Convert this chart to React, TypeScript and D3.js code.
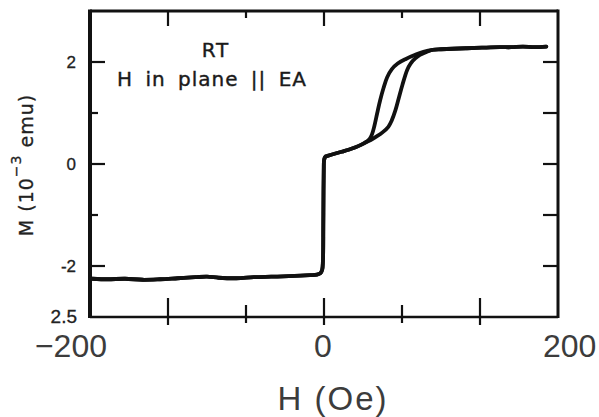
import React, { useEffect, useRef } from "react";
import * as d3 from "d3";

// low-field part shared by both sweeps (H in Oe, M in 10^-3 emu)
const negH = [-198, -185, -170, -155, -140, -125, -110, -100, -90, -75, -60, -45, -30, -20, -12, -6, -3, -1.6, -0.9, -0.6, -0.4, -0.2, 0, 0.6, 1.5];
const negM = [-2.25, -2.26, -2.25, -2.27, -2.26, -2.24, -2.22, -2.21, -2.23, -2.24, -2.22, -2.21, -2.2, -2.19, -2.18, -2.17, -2.14, -2.08, -1.9, -1.2, -0.5, -0.1, 0.06, 0.12, 0.15];
const lowH = [3, 9, 15, 21, 27, 32, 36];
const lowM = [0.16, 0.2, 0.24, 0.28, 0.33, 0.38, 0.43];
// the two branches of the loop
const upH = [40, 45, 50, 55, 58, 61, 64, 67, 71, 74, 78, 82, 88];
const upM = [0.47, 0.54, 0.62, 0.73, 0.86, 1.05, 1.3, 1.55, 1.84, 1.97, 2.07, 2.14, 2.2];
const downH = [39, 41, 43, 45.5, 48, 51, 54, 58, 63, 70, 78, 85];
const downM = [0.49, 0.58, 0.74, 1.0, 1.25, 1.5, 1.7, 1.86, 1.97, 2.06, 2.14, 2.2];
// saturation
const satH = [93, 100, 110, 122, 135, 150, 160, 170, 180, 190];
const satM = [2.24, 2.25, 2.26, 2.27, 2.28, 2.29, 2.29, 2.3, 2.29, 2.3];

const yMajor = [2, 0, -2];
const yMinor = [1, -1];
const yLabels = ["2", "0", "-2"];
const yBottomLabel = "2.5";
const xLabels = [-200, 0, 200];

const width = 599;
const height = 417;
const frame = { left: 90, right: 558, top: 11, bottom: 317 };

function App() {
  const ref = useRef<SVGSVGElement>(null);

  useEffect(() => {
    const svg = d3.select(ref.current);
    svg.selectAll("*").remove();

    const x = d3.scaleLinear().domain([-200, 200]).range([frame.left, frame.right]);
    const y = d3.scaleLinear().domain([-3, 3]).range([frame.bottom, frame.top]);

    const zip = (h: number[], m: number[]) => h.map((v, i) => [v, m[i]] as [number, number]);
    const up = [...zip(negH, negM), ...zip(lowH, lowM), ...zip(upH, upM), ...zip(satH, satM)];
    const down = [...zip(negH, negM), ...zip(lowH, lowM), ...zip(downH, downM), ...zip(satH, satM)];

    const line = d3.line<[number, number]>()
      .x(d => x(d[0]))
      .y(d => y(d[1]))
      .curve(d3.curveCatmullRom.alpha(0.5));

    svg.selectAll("path.loop")
      .data([up, down])
      .enter()
      .append("path")
      .attr("class", "loop")
      .attr("d", d => line(d))
      .attr("fill", "none")
      .attr("stroke", "#111")
      .attr("stroke-width", 3.8)
      .attr("stroke-linejoin", "round")
      .attr("stroke-linecap", "round");

    // frame
    const g = svg.append("g").attr("stroke", "#111").attr("fill", "none");
    g.append("line").attr("x1", frame.left).attr("x2", frame.right).attr("y1", frame.top).attr("y2", frame.top).attr("stroke-width", 3);
    g.append("line").attr("x1", frame.left).attr("x2", frame.right).attr("y1", frame.bottom).attr("y2", frame.bottom).attr("stroke-width", 2.5);
    g.append("line").attr("x1", frame.left).attr("x2", frame.left).attr("y1", frame.top - 1.5).attr("y2", frame.bottom + 1).attr("stroke-width", 4);
    g.append("line").attr("x1", frame.right).attr("x2", frame.right).attr("y1", frame.top - 1.5).attr("y2", frame.bottom + 1).attr("stroke-width", 3);

    // y ticks
    const yt = [...yMajor.map(v => ({ v, len: 15 })), ...yMinor.map(v => ({ v, len: 8 }))];
    g.selectAll("line.yl").data(yt).enter().append("line")
      .attr("x1", frame.left).attr("x2", d => frame.left + d.len)
      .attr("y1", d => y(d.v)).attr("y2", d => y(d.v)).attr("stroke-width", 2.2);
    g.selectAll("line.yr").data(yt).enter().append("line")
      .attr("x1", frame.right).attr("x2", frame.right - 15)
      .attr("y1", d => y(d.v)).attr("y2", d => y(d.v)).attr("stroke-width", 2.2);

    // x ticks
    const xt = d3.range(1, 6).map(i => ({ v: -200 + (i * 400) / 6, major: i % 2 === 1 }));
    g.selectAll("line.xt").data(xt).enter().append("line")
      .attr("x1", d => x(d.v)).attr("x2", d => x(d.v))
      .attr("y1", frame.top).attr("y2", d => frame.top + (d.major ? 15 : 7)).attr("stroke-width", 2.2);
    g.selectAll("line.xb").data(xt).enter().append("line")
      .attr("x1", d => x(d.v)).attr("x2", d => x(d.v))
      .attr("y1", d => frame.bottom - (d.major ? 19 : 12)).attr("y2", d => frame.bottom + (d.major ? 8 : 6)).attr("stroke-width", 2.2);

    // y tick labels
    svg.selectAll("text.yl").data(yMajor).enter().append("text")
      .attr("x", 76).attr("y", d => y(d)).attr("dy", "0.36em")
      .attr("text-anchor", "end")
      .attr("font-family", "Liberation Sans, Arial, sans-serif").attr("font-size", 17)
      .attr("fill", "#222").attr("stroke", "#222").attr("stroke-width", 0.3)
      .text((_, i) => yLabels[i]);
    svg.append("text")
      .attr("x", 77).attr("y", y(-3)).attr("dy", "0.33em")
      .attr("text-anchor", "end")
      .attr("font-family", "Liberation Sans, Arial, sans-serif").attr("font-size", 19)
      .attr("fill", "#222").attr("stroke", "#222").attr("stroke-width", 0.3)
      .text(yBottomLabel);

    // x tick labels
    svg.selectAll("text.xl").data(xLabels).enter().append("text")
      .attr("x", d => x(d) + (d < 0 ? 17 : d > 0 ? -15 : -1))
      .attr("y", 357)
      .attr("text-anchor", d => (d < 0 ? "end" : d > 0 ? "start" : "middle"))
      .attr("font-family", "Liberation Sans, Arial, sans-serif").attr("font-size", 32).attr("fill", "#3c3c3c")
      .text(d => (d < 0 ? "−" + Math.abs(d) : String(d)));

    // x title
    svg.append("text")
      .attr("x", 333).attr("y", 410)
      .attr("text-anchor", "middle")
      .attr("font-family", "Liberation Sans, Arial, sans-serif").attr("font-size", 33)
      .attr("letter-spacing", 2).attr("fill", "#3c3c3c")
      .text("H (Oe)");

    // y title
    const yt2 = svg.append("text")
      .attr("transform", "translate(33,165) rotate(-90)")
      .attr("text-anchor", "middle")
      .attr("font-family", "DejaVu Sans, sans-serif").attr("font-size", 19)
      .attr("letter-spacing", 1).attr("fill", "#222").attr("stroke", "#222").attr("stroke-width", 0.3);
    yt2.append("tspan").text("M (10");
    yt2.append("tspan").attr("dy", -12).attr("font-size", 14).text("−3");
    yt2.append("tspan").attr("dy", 12).text(" emu)");

    // annotation
    const note = svg.append("g")
      .attr("font-family", "DejaVu Sans, sans-serif").attr("font-size", 20)
      .attr("fill", "#1a1a1a").attr("stroke", "#1a1a1a").attr("stroke-width", 0.4)
      .attr("text-anchor", "middle");
    note.append("text").attr("x", 216).attr("y", 57).attr("letter-spacing", 2).text("RT");
    note.append("text").attr("x", 212).attr("y", 86)
      .attr("letter-spacing", 1).attr("word-spacing", 5).text("H in plane || EA");
  }, []);

  return (
    <svg
      ref={ref}
      width={width}
      height={height}
      style={{ position: "absolute", left: 0, top: 0, background: "#fff" }}
    />
  );
}

export default App;
